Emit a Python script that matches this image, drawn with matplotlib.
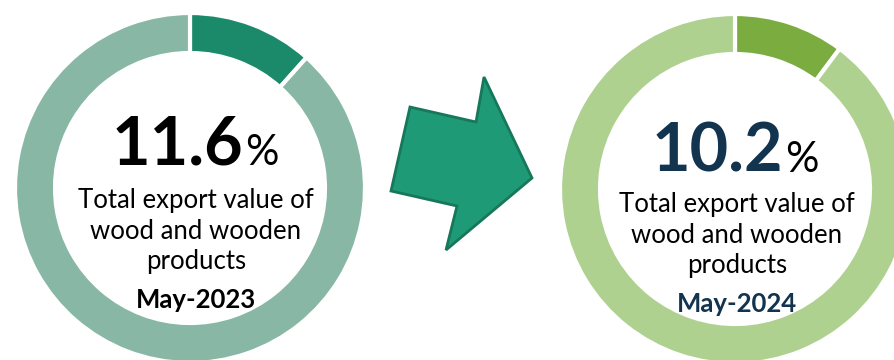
import matplotlib.pyplot as plt
from matplotlib.patches import Polygon

plt.rcParams['font.family'] = ['Lato', 'DejaVu Sans']

# share of wood and wooden products in total export value (%)
shares = [11.6, 10.2]
periods = ['May-2023', 'May-2024']
caption = 'Total export value of\nwood and wooden\nproducts'

# styles for each donut
dark_colors = ['#1b8a6b', '#7bac3f']
light_colors = ['#88b8a5', '#aed190']
number_colors = ['#000000', '#12344f']
period_colors = ['#000000', '#12344f']
centers = [(190, 172), (735, 171)]
text_x = [196, 737]
num_right = [243, 783]
num_base = [195, 188]
cap_top = [172, 168]
per_base = [52, 48]
radius = 175
ring = 40

fig = plt.figure(figsize=(8.95, 3.6), dpi=100)
ax = fig.add_axes([0, 0, 1, 1])

for i in range(2):
    cx, cy = centers[i]
    ax.pie([shares[i], 100 - shares[i]], colors=[dark_colors[i], light_colors[i]],
           startangle=90, counterclock=False, center=(cx, cy), radius=radius,
           wedgeprops=dict(width=ring, edgecolor='white', linewidth=3))

    # big number + small percent sign
    ax.text(num_right[i], num_base[i], f'{shares[i]}', ha='right', va='baseline',
            fontsize=48, fontweight='bold', color=number_colors[i])
    ax.text(num_right[i] + 2, num_base[i], '%', ha='left', va='baseline',
            fontsize=30, color='black')

    ax.text(text_x[i], cap_top[i], caption, ha='center', va='top',
            fontsize=18.5, linespacing=1.28, color='black')
    ax.text(text_x[i], per_base[i], periods[i], ha='center', va='baseline',
            fontsize=18.5, fontweight='bold', color=period_colors[i])

# arrow between the two donuts
arrow_pts = [(410, 107), (476, 122), (484, 77), (532, 178), (446, 250),
             (457, 206), (391, 191)]
arrow = Polygon([(x, 360 - y) for x, y in arrow_pts], closed=True,
                facecolor='#1f9a76', edgecolor='#17775a', linewidth=2)
ax.add_patch(arrow)

ax.set_xlim(0, 895)
ax.set_ylim(0, 360)
ax.axis('off')

plt.savefig('out.png', dpi=100)
